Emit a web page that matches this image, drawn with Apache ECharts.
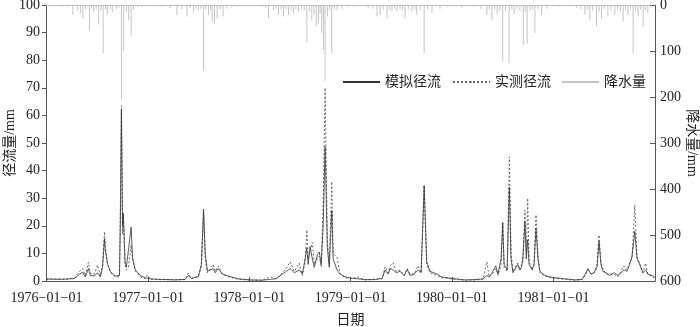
<!DOCTYPE html>
<html>
<head>
<meta charset="utf-8">
<script src="https://cdn.jsdelivr.net/npm/echarts@6/dist/echarts.min.js"></script>
<style>html,body{margin:0;padding:0;background:#fff}#c{width:700px;height:327px}</style>
</head>
<body>
<div id="c"></div>
<script>
// Runoff (mm)
const dates = [
'1976-01-01','1976-02-02','1976-03-09','1976-04-11','1976-04-29','1976-05-10','1976-05-20','1976-05-31','1976-06-07','1976-06-22',
'1976-07-03','1976-07-13','1976-07-21','1976-07-28','1976-07-31','1976-08-08','1976-08-18','1976-09-05','1976-09-20','1976-09-23',
'1976-09-27','1976-10-01','1976-10-04','1976-10-10','1976-10-15','1976-10-22','1976-11-01','1976-11-06','1976-11-16','1976-12-04',
'1976-12-22','1976-12-30','1977-01-09','1977-02-14','1977-04-09','1977-05-15','1977-05-26','1977-06-06','1977-07-01','1977-07-12',
'1977-07-20','1977-07-26','1977-08-03','1977-08-24','1977-08-31','1977-09-11','1977-09-26','1977-10-17','1977-11-22','1978-01-04',
'1978-02-17','1978-03-17','1978-04-08','1978-04-30','1978-05-14','1978-05-28','1978-06-12','1978-06-30','1978-07-11','1978-07-21',
'1978-07-27','1978-08-01','1978-08-08','1978-08-16','1978-08-23','1978-09-03','1978-09-10','1978-09-17','1978-09-24','1978-10-01',
'1978-10-09','1978-10-16','1978-10-25','1978-10-30','1978-11-13','1978-11-24','1978-12-12','1979-01-07','1979-01-25','1979-02-22',
'1979-03-30','1979-04-25','1979-05-05','1979-05-16','1979-05-23','1979-06-03','1979-06-14','1979-06-28','1979-07-13','1979-07-24',
'1979-08-03','1979-08-18','1979-09-01','1979-09-12','1979-09-23','1979-10-02','1979-10-14','1979-11-09','1979-11-23','1979-12-15',
'1980-01-12','1980-02-17','1980-03-24','1980-04-22','1980-05-06','1980-05-14','1980-05-25','1980-06-07','1980-06-15','1980-06-26',
'1980-07-02','1980-07-07','1980-07-18','1980-07-26','1980-08-01','1980-08-08','1980-08-25','1980-09-02','1980-09-08','1980-09-13',
'1980-09-20','1980-09-25','1980-09-30','1980-10-05','1980-10-16','1980-10-23','1980-10-30','1980-11-06','1980-11-13','1980-12-01',
'1980-12-19','1981-01-06','1981-02-11','1981-03-19','1981-04-14','1981-04-28','1981-05-05','1981-05-16','1981-05-27','1981-06-07',
'1981-06-14','1981-06-21','1981-06-28','1981-07-09','1981-07-23','1981-08-07','1981-08-21','1981-09-01','1981-09-12','1981-09-23',
'1981-10-03','1981-10-11','1981-10-21','1981-10-29','1981-11-08','1981-11-19','1981-11-29','1981-12-07','1981-12-22','1981-12-31'
];
const simulated = [
0.8,0.6,0.7,0.9,2.5,3.2,1.5,4.5,2.0,1.8,
3.0,1.5,5,15.2,11,6,3.5,1.8,2,20,
62,20,24.5,7,5,5.5,19.5,8,4,2,
1.2,1.0,0.8,0.6,0.4,0.6,2.0,1.0,1.5,6,
26,10,3.5,4.5,3,4.5,2.5,1.8,0.8,0.4,
0.3,0.6,0.8,2.5,3.5,4.5,3,4,2.5,8,
12,6,12.5,8,5,9.5,10.5,6,20,48.7,
12,5,25.5,8,4,2.5,1.5,1.0,0.8,0.5,
0.6,1.0,4,2.5,4.5,4,3,3.5,2,4.2,
2,2.5,4,3,34.5,7,3.5,2.5,1.5,1.2,
0.8,0.4,0.5,0.8,2,1.5,3,5.5,2.5,8,
21,6,4,34,8,3,6,4,5,9,
21.5,8,15,6,4,6,19,8,3.5,2,
1.5,1.2,0.8,0.4,0.6,3,4.5,2.5,3,5,
14.3,6,3.5,3,2,3,2,3,4,3.5,
6,9,18,8,6,3,4,2.5,2,1.5
];
const observed = [
0.5,0.8,0.5,1.2,3.5,4.5,2.0,6.8,2.8,2.5,
5.8,1.8,6,17.8,12.5,6.5,3,1.5,1.5,25,
63.5,17,24,6,4,5,13,9,3.5,1.5,
0.8,2.2,0.6,0.5,0.5,0.5,2.9,0.8,1.8,5,
25,8,3,6,3.5,5.5,2.5,1.5,0.6,0.3,
0.3,1.5,0.8,3,4.5,7,3.5,6.5,2,7,
18.5,8,11,14,6,8,9,5,28,70,
15,6,36,10,8.5,2.5,1.2,0.8,1.5,0.4,
0.5,0.8,5.2,3,5.5,6.6,3.5,4,2,4.5,
2.5,2.5,5.5,3,34.8,6,3,2,1.2,1,
0.6,0.3,0.4,0.5,7,1.5,2.5,4.5,2,6,
21.5,5,3.5,45,10,3.5,6.5,4,6,7,
25.7,10,30,7,4,6,24,10,3,1.8,
1.2,1.0,0.6,0.3,0.5,2.5,4,2.5,3,6,
16.7,7,4.5,2.5,2.5,2.5,1.5,3.5,5.5,4,
7,8,27.5,9,6,3,6.5,2.5,1.5,1.2
];
// Precipitation (mm)
const rainDates = [
'1976-01-20','1976-02-25','1976-03-15','1976-04-05','1976-04-22','1976-05-02','1976-05-11','1976-05-20','1976-06-04','1976-06-12',
'1976-06-19','1976-06-28','1976-07-07','1976-07-15','1976-07-23','1976-08-01','1976-08-07','1976-08-17','1976-08-25','1976-09-09',
'1976-09-18','1976-09-27','1976-10-05','1976-10-15','1976-10-23','1976-11-01','1976-11-10','1976-11-25','1976-12-10',
'1977-01-25','1977-02-20','1977-03-20','1977-04-15','1977-05-03','1977-05-21','1977-06-02','1977-06-14','1977-06-22','1977-07-01',
'1977-07-10','1977-07-20','1977-07-28','1977-08-07','1977-08-14','1977-08-20','1977-08-28','1977-09-07','1977-09-18','1977-09-28',
'1977-10-12','1977-10-30','1977-11-20','1977-12-15',
'1978-01-20','1978-02-15','1978-03-01','1978-03-11','1978-03-29','1978-04-08','1978-04-16','1978-04-25','1978-05-04','1978-05-13',
'1978-05-22','1978-06-01','1978-06-09','1978-06-18','1978-06-27','1978-07-08','1978-07-18','1978-07-27','1978-08-05','1978-08-14',
'1978-08-22','1978-08-30','1978-09-07','1978-09-13','1978-09-19','1978-09-25','1978-10-01','1978-10-10','1978-10-18','1978-10-25',
'1978-11-03','1978-11-13','1978-12-01','1978-12-20',
'1979-01-15','1979-02-10','1979-03-05','1979-03-22','1979-04-06','1979-04-17','1979-04-28','1979-05-12','1979-05-22','1979-05-30',
'1979-06-08','1979-06-17','1979-06-28','1979-07-07','1979-07-16','1979-07-28','1979-08-10','1979-08-20','1979-08-27','1979-09-08',
'1979-09-23','1979-10-05','1979-10-21','1979-11-19','1979-12-15',
'1980-01-10','1980-02-06','1980-03-20','1980-04-15','1980-05-06','1980-05-15','1980-05-24','1980-06-03','1980-06-12','1980-06-22',
'1980-07-02','1980-07-12','1980-07-25','1980-08-04','1980-08-12','1980-08-22','1980-09-02','1980-09-14','1980-09-21','1980-09-28',
'1980-10-08','1980-10-17','1980-10-26','1980-11-06','1980-11-19','1980-12-09',
'1981-01-20','1981-02-25','1981-03-25','1981-04-10','1981-04-24','1981-05-03','1981-05-12','1981-05-22','1981-06-05','1981-06-14',
'1981-06-23','1981-07-02','1981-07-16','1981-07-27','1981-08-10','1981-08-20','1981-08-30','1981-09-09','1981-09-18','1981-09-26',
'1981-10-05','1981-10-15','1981-10-24','1981-11-02','1981-11-11','1981-11-20','1981-11-28','1981-12-07','1981-12-20'
];
const rain = [
3,4,5,22,12,18,29,10,56,8,
15,9,43,12,105,10,20,8,15,8,
6,206,101,15,33,67,11,5,4,
3,4,6,22,9,25,7,18,8,12,
9,143,10,22,12,36,40,29,10,25,
8,5,4,3,
3,4,6,29,12,8,22,10,25,9,
22,12,18,10,14,9,12,81,15,33,
20,47,40,18,61,98,165,25,12,105,
9,11,8,4,
4,3,6,8,25,22,10,29,9,14,
8,14,10,12,29,9,14,10,22,12,
105,10,18,8,4,
3,6,5,8,22,10,33,9,20,12,
123,14,126,10,20,9,12,87,15,84,
12,10,61,9,22,8,
4,3,6,10,22,9,33,12,47,15,
29,10,25,12,22,10,14,36,12,22,
10,105,12,25,10,47,12,18,6
];
const xStart = '1976-01-01';
const xEnd = '1981-12-31';

const serif = "'Liberation Serif','Noto Sans CJK SC',serif";
const pad = n => (n < 10 ? '0' : '') + n;
const endTime = +new Date(xEnd + 'T00:00:00');
const chart = echarts.init(document.getElementById('c'), null, {renderer: 'canvas'});
chart.setOption({
  animation: false,
  textStyle: {fontFamily: serif},
  grid: {left: 46, right: 45, top: 5, bottom: 46, containLabel: false, outerBoundsMode: 'none'},
  legend: {
    left: 337, top: 70, itemWidth: 37, itemHeight: 2, itemGap: 11,
    textStyle: {fontFamily: serif, fontSize: 14, color: '#222'},
    data: [{name: '模拟径流'}, {name: '实测径流'}, {name: '降水量', icon: 'rect'}]
  },
  xAxis: [{
    type: 'time', min: xStart, max: xEnd, splitNumber: 6,
    name: '日期', nameLocation: 'middle', nameGap: 32, nameMoveOverlap: false,
    nameTextStyle: {fontFamily: serif, fontSize: 14, color: '#222'},
    axisLine: {lineStyle: {color: '#555'}},
    axisTick: {inside: true, length: 4, lineStyle: {color: '#555'}},
    splitLine: {show: false},
    axisLabel: {
      fontFamily: serif, fontSize: 14, color: '#222', margin: 10,
      formatter: v => {
        if (v >= endTime - 86400000) return '';
        const d = new Date(v);
        return d.getFullYear() + '−' + pad(d.getMonth() + 1) + '−' + pad(d.getDate());
      }
    }
  }, {
    type: 'time', position: 'top', min: xStart, max: xEnd,
    axisLine: {lineStyle: {color: '#bbb'}}, axisTick: {show: false}, axisLabel: {show: false}, splitLine: {show: false}
  }],
  yAxis: [{
    type: 'value', min: 0, max: 100, interval: 10,
    name: '径流量/mm', nameLocation: 'middle', nameGap: 29, nameRotate: 90, nameMoveOverlap: false,
    nameTextStyle: {fontFamily: serif, fontSize: 14, color: '#222'},
    axisLine: {show: true, lineStyle: {color: '#555'}},
    axisTick: {show: true, length: 4, lineStyle: {color: '#555'}},
    splitLine: {show: false},
    axisLabel: {fontFamily: serif, fontSize: 14, color: '#222', margin: 6}
  }, {
    type: 'value', min: 0, max: 600, interval: 100, inverse: true, position: 'right',
    name: '降水量/mm', nameLocation: 'middle', nameGap: 30, nameRotate: -90, nameMoveOverlap: false,
    nameTextStyle: {fontFamily: serif, fontSize: 14, color: '#222'},
    axisLine: {show: true, lineStyle: {color: '#555'}},
    axisTick: {show: true, inside: true, length: 5, lineStyle: {color: '#555'}},
    splitLine: {show: false},
    axisLabel: {fontFamily: serif, fontSize: 14, color: '#222', margin: 5}
  }],
  series: [{
    name: '降水量', type: 'bar', yAxisIndex: 1, barWidth: 1,
    itemStyle: {color: '#c4c4c4'},
    data: rainDates.map((d, i) => [d, rain[i]])
  }, {
    name: '实测径流', type: 'line', showSymbol: false, symbol: 'none',
    lineStyle: {color: '#666', width: 1, type: [2, 2]},
    itemStyle: {color: '#666'},
    data: dates.map((d, i) => [d, observed[i]])
  }, {
    name: '模拟径流', type: 'line', showSymbol: false, symbol: 'none',
    lineStyle: {color: '#333', width: 0.8},
    itemStyle: {color: '#333'},
    data: dates.map((d, i) => [d, simulated[i]])
  }]
});
</script>
</body>
</html>
